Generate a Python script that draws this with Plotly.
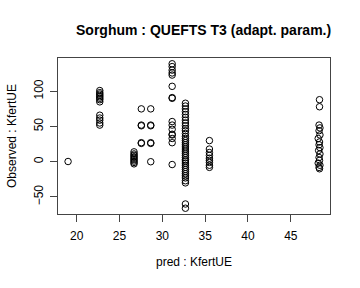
import plotly.graph_objects as go

# Predicted KfertUE (x) and observed KfertUE (y), grouped by column of points
pred_19 = [19.0]
obs_19 = [0.3]

pred_23 = [22.7] * 13
obs_23 = [101, 98, 96, 94, 92, 90, 88, 85, 66, 62, 59, 55, 52]

pred_267 = [26.7] * 9
obs_267 = [14, 11, 9, 7, 5, 3, 1, -1, -3]

pred_276 = [27.55] * 5
obs_276 = [75, 52, 51, 27, 26]

pred_287 = [28.65] * 6
obs_287 = [75, 52, 51, 27, 26, 0]

pred_311 = [31.15] * 16
obs_311 = [139, 135, 130, 126, 123, 107, 91, 90, 57, 52, 46, 39, 38, 33, 27, -4]

pred_327 = [32.7] * 37
obs_327 = [83, 79, 75, 71, 67, 63, 59, 55, 51, 47, 44, 40, 36, 33, 30, 27, 24, 21,
           18, 15, 12, 9, 6, 3, 1, -2, -5, -8, -11, -14, -17, -20, -23, -27, -30,
           -60, -66]

pred_355 = [35.5] * 9
obs_355 = [30, 18, 13, 9, 5, 2, -1, -5, -8]

pred_483 = [48.35, 48.35, 48.3, 48.4, 48.3, 48.4, 48.2, 48.35, 48.3, 48.4, 48.25,
            48.4, 48.3, 48.35, 48.2, 48.4, 48.3, 48.35]
obs_483 = [88, 78, 52, 48, 44, 38, 33, 28, 24, 20, 16, 11, 6, 2, -2, -5, -8, -10]

pred = pred_19 + pred_23 + pred_267 + pred_276 + pred_287 + pred_311 + pred_327 + pred_355 + pred_483
observed = obs_19 + obs_23 + obs_267 + obs_276 + obs_287 + obs_311 + obs_327 + obs_355 + obs_483

x_ticks = [20, 25, 30, 35, 40, 45]
y_ticks = [-50, 0, 50, 100]

title_text = "Sorghum : QUEFTS T3 (adapt. param.)"
x_label = "pred : KfertUE"
y_label = "Observed : KfertUE"

font_family = "Liberation Sans, Arial, Helvetica, sans-serif"

# R-style 4% axis expansion
def expand(vals):
    lo, hi = min(vals), max(vals)
    pad = (hi - lo) * 0.04
    return [lo - pad, hi + pad]

fig = go.Figure()
fig.add_trace(go.Scatter(
    x=pred, y=observed, mode="markers",
    marker=dict(symbol="circle-open", size=6.5, color="black", line=dict(width=1, color="black")),
    showlegend=False, hoverinfo="x+y",
))

fig.update_layout(
    width=360, height=288,
    margin=dict(l=58, r=30, t=58, b=74),
    paper_bgcolor="white", plot_bgcolor="white",
    font=dict(family=font_family, size=12, color="black"),
    xaxis=dict(range=expand(pred), tickvals=x_ticks, ticks="outside", ticklen=7,
               tickcolor="#444", showgrid=False, zeroline=False, showline=True,
               linecolor="#444", linewidth=1, mirror=True, ticklabelstandoff=4,
               tickfont=dict(size=12, color="black")),
    yaxis=dict(range=expand(observed), tickvals=y_ticks, ticks="outside", ticklen=7,
               tickcolor="#444", showgrid=False, zeroline=False, showline=True,
               linecolor="#444", linewidth=1, mirror=True, tickangle=-90,
               ticklabelstandoff=2, tickfont=dict(size=12, color="black")),
    annotations=[
        dict(text="<b>" + title_text + "</b>", xref="paper", yref="paper", x=0.5, y=1,
             xshift=9, yshift=28, xanchor="center", yanchor="middle", showarrow=False,
             font=dict(size=14, color="black")),
        dict(text=x_label, xref="paper", yref="paper", x=0.5, y=0, yshift=-48,
             xanchor="center", yanchor="middle", showarrow=False,
             font=dict(size=12, color="black")),
        dict(text=y_label, xref="paper", yref="paper", x=0, y=0.5, xshift=-46,
             xanchor="center", yanchor="middle", textangle=-90, showarrow=False,
             font=dict(size=12, color="black")),
    ],
)

fig.write_html("out.html")
